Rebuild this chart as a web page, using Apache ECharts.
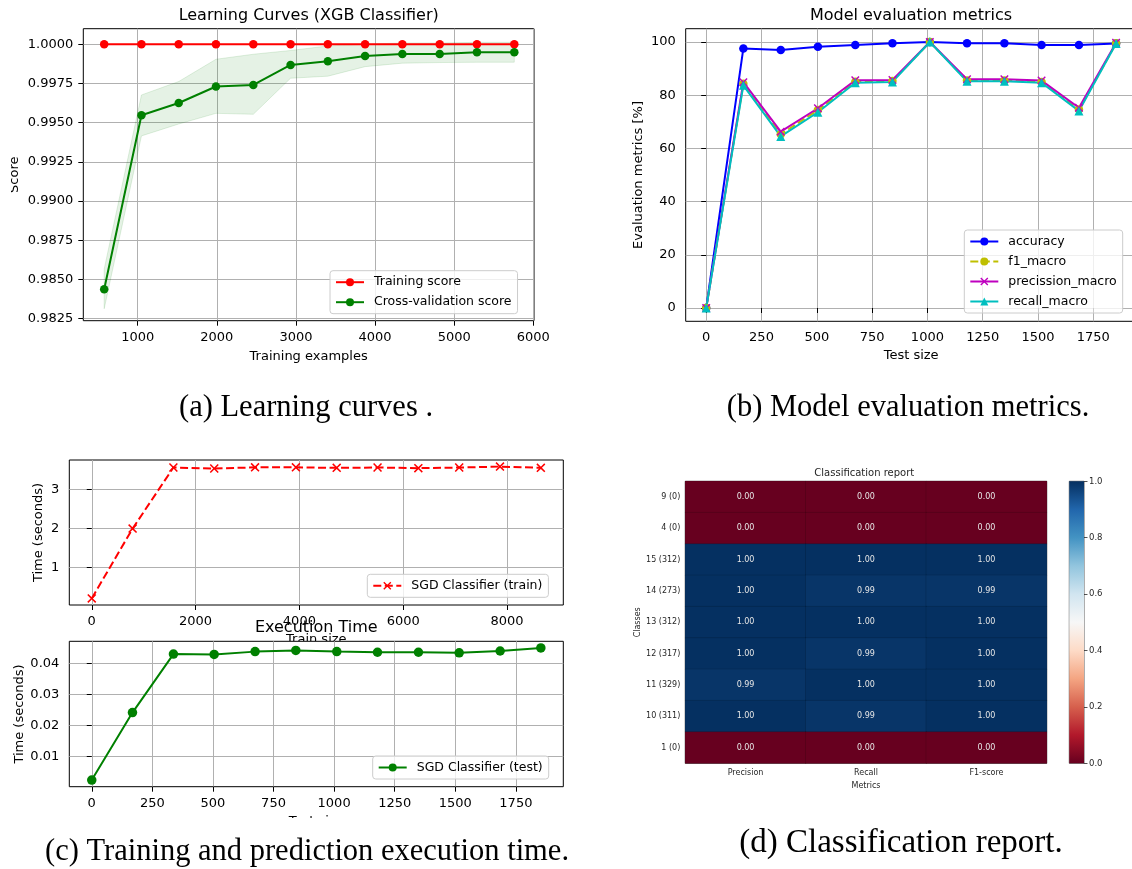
<!DOCTYPE html>
<html>
<head>
<meta charset="utf-8">
<script src="https://cdn.jsdelivr.net/npm/echarts@6/dist/echarts.min.js"></script>
<style>
html,body{margin:0;padding:0;background:#fff;overflow:hidden;width:1132px;height:869px;}
.c{position:absolute;overflow:hidden;}
</style>
</head>
<body>
<div id="cap" class="c" style="left:0;top:0;width:1132px;height:869px"></div>
<div id="ca" class="c" style="left:11px;top:0;width:549px;height:380px"></div>
<div id="cb" class="c" style="left:600px;top:0;width:545px;height:380px"></div>
<div id="c1" class="c" style="left:0;top:430px;width:580px;height:211px"></div>
<div id="c2" class="c" style="left:0;top:612px;width:580px;height:206px"></div>
<div id="cd" class="c" style="left:620px;top:460px;width:512px;height:340px"></div>
<script>
// ---------- data ----------
// (a) learning curves
const trainSizes = [576, 1047, 1518, 1989, 2461, 2932, 3403, 3874, 4345, 4817, 5288, 5760];
const trainScore = [1, 1, 1, 1, 1, 1, 1, 1, 1, 1, 1, 1];
const cvScore = [0.98437, 0.99547, 0.99625, 0.99730, 0.99740, 0.99868, 0.99891, 0.99925, 0.99938, 0.99938, 0.99949, 0.99949];
const cvUpper = [0.98565, 0.99676, 0.99762, 0.99904, 0.99936, 0.99960, 0.99989, 1.00000, 1.00008, 1.00008, 1.00012, 1.00012];
const cvLower = [0.98312, 0.99415, 0.99491, 0.99559, 0.99553, 0.99783, 0.99796, 0.99857, 0.99879, 0.99883, 0.99885, 0.99885];
const aXTicks = [1000, 2000, 3000, 4000, 5000, 6000];
const aYTicks = [0.9825, 0.985, 0.9875, 0.99, 0.9925, 0.995, 0.9975, 1.0];

// (b) model evaluation metrics
const testSizes = [0, 168, 337, 505, 674, 842, 1011, 1179, 1348, 1516, 1685, 1853];
const accuracy = [0, 97.6, 97.0, 98.2, 98.9, 99.5, 100, 99.5, 99.5, 98.9, 98.9, 99.4];
const f1Macro = [0, 84.3, 65.3, 74.4, 85.1, 85.3, 100, 85.5, 85.5, 85.0, 74.6, 99.5];
const precisionMacro = [0, 84.9, 66.3, 75.1, 85.6, 85.7, 100, 86.0, 86.0, 85.5, 75.3, 99.7];
const recallMacro = [0, 83.7, 64.5, 73.6, 84.7, 85.0, 100, 85.2, 85.2, 84.7, 74.1, 99.4];
const bXTicks = [0, 250, 500, 750, 1000, 1250, 1500, 1750];
const bYTicks = [0, 20, 40, 60, 80, 100];

// (c) execution time
const trainSizesC = [0, 787, 1573, 2360, 3146, 3933, 4719, 5506, 6292, 7079, 7865, 8652];
const trainTime = [0.215, 2.0, 3.561, 3.536, 3.565, 3.565, 3.553, 3.561, 3.545, 3.561, 3.585, 3.553];
const testTime = [0.0024, 0.0242, 0.0431, 0.0430, 0.0439, 0.0443, 0.0439, 0.0437, 0.0437, 0.0435, 0.0441, 0.0451];
const cTrainXTicks = [0, 2000, 4000, 6000, 8000];
const cTrainYTicks = [1, 2, 3];
const cTestXTicks = [0, 250, 500, 750, 1000, 1250, 1500, 1750];
const cTestYTicks = [0.01, 0.02, 0.03, 0.04];

// (d) classification report
const classLabels = ['9 (0)', '4 (0)', '15 (312)', '14 (273)', '13 (312)', '12 (317)', '11 (329)', '10 (311)', '1 (0)'];
const metricLabels = ['Precision', 'Recall', 'F1-score'];
const reportValues = [
  [0, 0, 0], [0, 0, 0], [1, 1, 1], [1, 0.99, 0.99], [1, 1, 1],
  [1, 0.99, 1], [0.99, 1, 1], [1, 0.99, 1], [0, 0, 0]
];
const colorbarTicks = [0, 0.2, 0.4, 0.6, 0.8, 1.0];
const RdBu = ['#67001f', '#b2182b', '#d6604d', '#f4a582', '#fddbc7', '#f7f7f7', '#d1e5f0', '#92c5de', '#4393c3', '#2166ac', '#053061'];

const captionTexts = ['(a) Learning curves .', '(b) Model evaluation metrics.', '(c) Training and prediction execution time.', '(d) Classification report.'];

// ---------- helpers ----------
const FONT = 'DejaVu Sans';
const XMARK = 'path://M0,12 L12,0 L50,38 L88,0 L100,12 L62,50 L100,88 L88,100 L50,62 L12,100 L0,88 L38,50 Z';
function pairs(xs, ys) { return xs.map((x, i) => [x, ys[i]]); }
function mkAxis(p) {
  return {
    type: 'value', min: p.min, max: p.max,
    name: p.name || '', nameLocation: 'middle', nameGap: p.nameGap, nameMoveOverlap: false,
    nameRotate: p.vertical ? 90 : 0,
    nameTextStyle: { color: '#000', fontSize: 13, fontFamily: FONT },
    axisLine: { show: false },
    axisTick: { show: true, inside: false, length: 5, lineStyle: { color: '#000', width: 1 }, customValues: p.ticks },
    axisLabel: { show: true, color: '#000', fontSize: 13, fontFamily: FONT, margin: 10,
                 customValues: p.ticks, formatter: p.fmt || (v => String(v)) },
    splitLine: { show: true, lineStyle: { color: '#b0b0b0', width: 1 } }
  };
}
function mkGrid(l, t, w, h) {
  return { left: l, top: t, width: w, height: h, show: true, borderColor: '#000', borderWidth: 1,
           backgroundColor: 'transparent', containLabel: false, outerBoundsMode: 'none' };
}
function mkTitle(text, x, y, size) {
  return { text: text, left: x, top: y, textAlign: 'center', textVerticalAlign: 'middle', padding: 0,
           textStyle: { fontFamily: FONT, fontSize: size, fontWeight: 'normal', color: '#000' } };
}
function mkLegend(names, l, t) {
  return {
    data: names, orient: 'vertical', left: l, top: t, itemWidth: 28, itemHeight: 10, itemGap: 7,
    padding: [5, 6, 5, 5], borderColor: '#cccccc', borderWidth: 1, borderRadius: 3,
    backgroundColor: 'rgba(255,255,255,0.8)', selectedMode: false,
    textStyle: { fontFamily: FONT, fontSize: 12.5, color: '#000', padding: [0, 0, 0, 5] }
  };
}
function mkLine(name, xs, ys, color, symbol, size, dashed) {
  return {
    type: 'line', name: name, data: pairs(xs, ys), symbol: symbol, symbolSize: size, showSymbol: true,
    lineStyle: { color: color, width: 2, type: dashed ? [8, 3.5] : 'solid' },
    itemStyle: { color: color }, emphasis: { disabled: true }, silent: true
  };
}

// ---------- captions ----------
const capChart = echarts.init(document.getElementById('cap'));
const capPos = [[306, 408, 30.5], [908, 408, 30.5], [307, 852, 30.5], [901, 843, 33]];
capChart.setOption({
  animation: false,
  title: captionTexts.map((t, i) => ({
    text: t, left: capPos[i][0], top: capPos[i][1], textAlign: 'center', textVerticalAlign: 'middle', padding: 0,
    textStyle: { fontFamily: 'Liberation Serif', fontSize: capPos[i][2], fontWeight: 'normal', color: '#000' }
  }))
});

// ---------- (a) ----------
const chartA = echarts.init(document.getElementById('ca'));
chartA.setOption({
  animation: false,
  title: mkTitle('Learning Curves (XGB Classifier)', 297.7, 15.5, 16),
  grid: mkGrid(72.3, 28.7, 450.7, 292),
  xAxis: mkAxis({ min: 312, max: 6009, ticks: aXTicks, name: 'Training examples', nameGap: 29 }),
  yAxis: mkAxis({ min: 0.98236, max: 1.00099, ticks: aYTicks, vertical: true, name: 'Score', nameGap: 62, fmt: v => v.toFixed(4) }),
  legend: mkLegend(['Training score', 'Cross-validation score'], 319, 270.7),
  series: [
    {
      type: 'custom', coordinateSystem: 'cartesian2d', silent: true, z: 1,
      data: [[trainSizes[0], cvScore[0]]],
      renderItem: function (params, api) {
        const pts = [];
        for (let i = 0; i < trainSizes.length; i++) pts.push(api.coord([trainSizes[i], cvUpper[i]]));
        for (let i = trainSizes.length - 1; i >= 0; i--) pts.push(api.coord([trainSizes[i], cvLower[i]]));
        return { type: 'polygon', shape: { points: pts }, style: { fill: 'rgba(0,128,0,0.1)', stroke: 'rgba(0,128,0,0.12)', lineWidth: 1 } };
      }
    },
    mkLine('Training score', trainSizes, trainScore, '#ff0000', 'circle', 8.5, false),
    mkLine('Cross-validation score', trainSizes, cvScore, '#008000', 'circle', 8.5, false)
  ]
});

// ---------- (b) ----------
const chartB = echarts.init(document.getElementById('cb'));
chartB.setOption({
  animation: false,
  title: mkTitle('Model evaluation metrics', 311, 15.5, 16),
  grid: mkGrid(85.7, 28.7, 450.9, 292.6),
  xAxis: mkAxis({ min: -92.65, max: 1945.65, ticks: bXTicks, name: 'Test size', nameGap: 28 }),
  yAxis: mkAxis({ min: -5, max: 105, ticks: bYTicks, vertical: true, name: 'Evaluation metrics [%]', nameGap: 41 }),
  legend: mkLegend(['accuracy', 'f1_macro', 'precission_macro', 'recall_macro'], 364.3, 230),
  series: [
    mkLine('accuracy', testSizes, accuracy, '#0000ff', 'circle', 8.5, false),
    mkLine('f1_macro', testSizes, f1Macro, '#bfbf00', 'circle', 8.5, true),
    mkLine('precission_macro', testSizes, precisionMacro, '#bf00bf', XMARK, 8.5, false),
    mkLine('recall_macro', testSizes, recallMacro, '#00bfbf', 'triangle', 9, false)
  ]
});

// ---------- (c) top ----------
const chartC1 = echarts.init(document.getElementById('c1'));
chartC1.setOption({
  animation: false,
  grid: mkGrid(69.3, 30, 494, 145),
  xAxis: mkAxis({ min: -432.6, max: 9084.6, ticks: cTrainXTicks, name: 'Train size', nameGap: 28 }),
  yAxis: mkAxis({ min: 0.0465, max: 3.7535, ticks: cTrainYTicks, vertical: true, name: 'Time (seconds)', nameGap: 24 }),
  legend: mkLegend(['SGD Classifier (train)'], 367.3, 144.3),
  series: [mkLine('SGD Classifier (train)', trainSizesC, trainTime, '#ff0000', XMARK, 9, true)]
});

// ---------- (c) bottom ----------
const chartC2 = echarts.init(document.getElementById('c2'));
chartC2.setOption({
  animation: false,
  title: mkTitle('Execution Time', 316.3, 16.3, 16),
  grid: mkGrid(69.3, 29.3, 494, 145.4),
  xAxis: mkAxis({ min: -92.65, max: 1945.65, ticks: cTestXTicks, name: 'Test size', nameGap: 28 }),
  yAxis: mkAxis({ min: 0.000265, max: 0.047235, ticks: cTestYTicks, vertical: true, name: 'Time (seconds)', nameGap: 43, fmt: v => v.toFixed(2) }),
  legend: mkLegend(['SGD Classifier (test)'], 372.7, 144),
  series: [mkLine('SGD Classifier (test)', testSizes, testTime, '#008000', 'circle', 9.5, false)]
});

// ---------- (d) ----------
const chartD = echarts.init(document.getElementById('cd'));
const heatData = [];
reportValues.forEach((row, r) => row.forEach((v, c) => heatData.push([c, r, v])));
const smallText = { fontFamily: FONT, fontSize: 8, color: '#262626' };
chartD.setOption({
  animation: false,
  title: { text: 'Classification report', left: 244.3, top: 13.3, textAlign: 'center', textVerticalAlign: 'middle', padding: 0,
           textStyle: { fontFamily: FONT, fontSize: 10, fontWeight: 'normal', color: '#262626' } },
  grid: [
    { left: 65.3, top: 21.3, width: 361.4, height: 282, show: true, borderColor: '#555', borderWidth: 1, containLabel: false, outerBoundsMode: 'none' },
    { left: 449.3, top: 21.3, width: 14.7, height: 282, show: true, borderColor: '#333', borderWidth: 0.8, containLabel: false, outerBoundsMode: 'none' }
  ],
  xAxis: [
    { type: 'category', gridIndex: 0, data: metricLabels, name: 'Metrics', nameLocation: 'middle', nameGap: 18.5, nameMoveOverlap: false,
      nameTextStyle: smallText, axisLine: { show: false }, axisTick: { show: false },
      axisLabel: Object.assign({ margin: 6 }, smallText), splitLine: { show: false }, splitArea: { show: false } },
    { type: 'category', gridIndex: 1, data: ['colorbar'], show: false }
  ],
  yAxis: [
    { type: 'category', gridIndex: 0, data: classLabels, inverse: true, name: 'Classes', nameLocation: 'middle', nameGap: 43, nameMoveOverlap: false,
      nameRotate: 90, nameTextStyle: smallText, axisLine: { show: false }, axisTick: { show: false },
      axisLabel: Object.assign({ margin: 5 }, smallText), splitLine: { show: false }, splitArea: { show: false } },
    { type: 'value', gridIndex: 1, position: 'right', min: colorbarTicks[0], max: colorbarTicks[colorbarTicks.length - 1], interval: 0.2,
      axisLine: { show: false }, axisTick: { show: true, length: 3.5, lineStyle: { color: '#262626', width: 0.8 } },
      axisLabel: { fontFamily: FONT, fontSize: 8.5, color: '#262626', margin: 5, formatter: v => v.toFixed(1) },
      splitLine: { show: false } }
  ],
  visualMap: { type: 'continuous', min: 0, max: 1, show: false, seriesIndex: 0, inRange: { color: RdBu } },
  series: [
    { type: 'heatmap', xAxisIndex: 0, yAxisIndex: 0, data: heatData, silent: true,
      itemStyle: { borderColor: 'rgba(0,0,0,0.2)', borderWidth: 0.6 },
      label: { show: true, formatter: p => p.value[2].toFixed(2), fontFamily: FONT, fontSize: 8, color: '#e6e6e6' },
      emphasis: { disabled: true } },
    { type: 'bar', xAxisIndex: 1, yAxisIndex: 1, data: [colorbarTicks[colorbarTicks.length - 1]], barWidth: '100%', silent: true,
      itemStyle: { color: new echarts.graphic.LinearGradient(0, 1, 0, 0, RdBu.map((c, i) => ({ offset: i / (RdBu.length - 1), color: c }))) } }
  ]
});
</script>
</body>
</html>
